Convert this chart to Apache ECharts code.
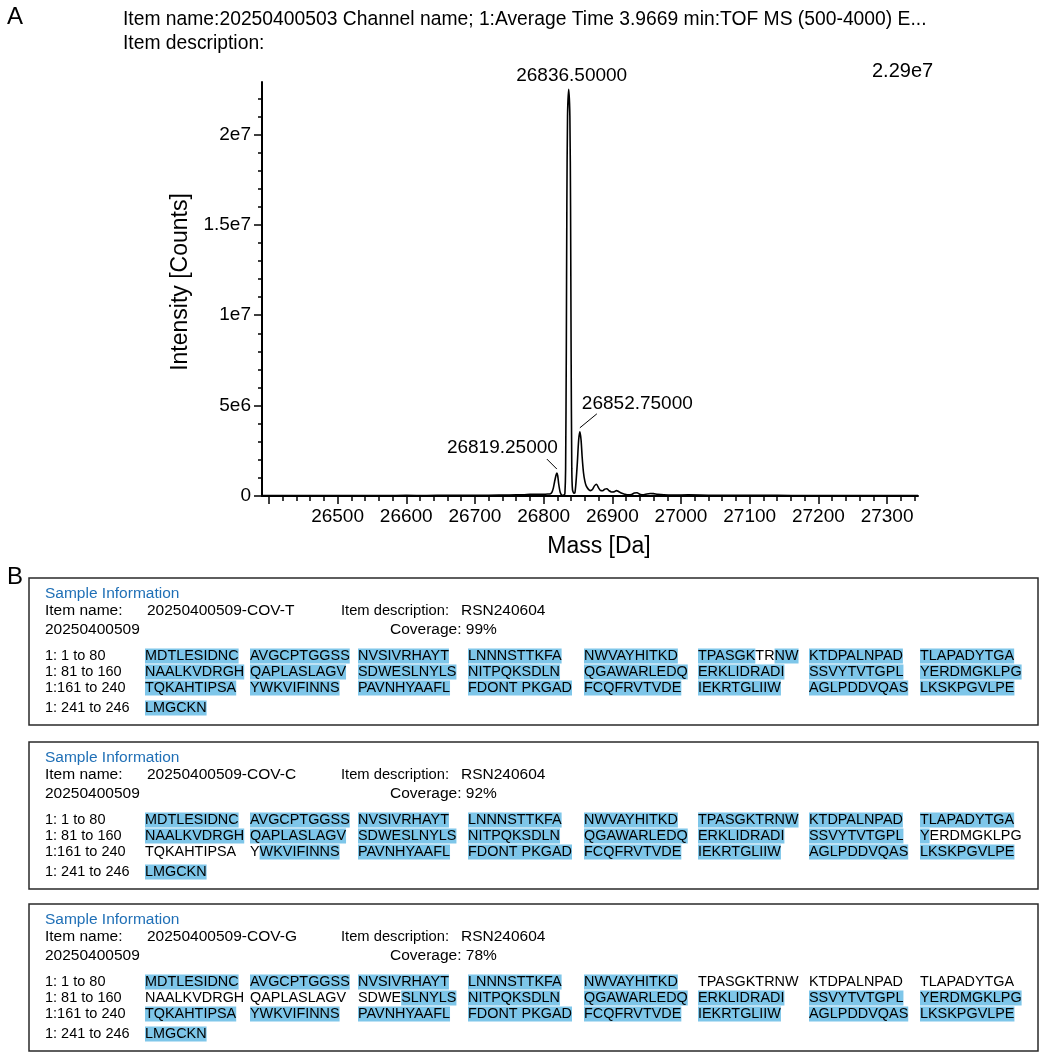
<!DOCTYPE html>
<html><head><meta charset="utf-8">
<script src="https://cdn.jsdelivr.net/npm/echarts@6/dist/echarts.min.js"></script>
<style>html,body{margin:0;padding:0;background:#fff}#c{width:1045px;height:1055px}</style>
</head><body><div id="c"></div>
<script>
// ---------------- DATA ----------------
const titleLines = ['Item name:20250400503 Channel name; 1:Average Time 3.9669 min:TOF MS (500-4000) E...', 'Item description:'];
const maxIntensityLabel = '2.29e7';
const xAxisName = 'Mass [Da]';
const yAxisName = 'Intensity [Counts]';
const xTickLabels = [26500, 26600, 26700, 26800, 26900, 27000, 27100, 27200, 27300];
const yTickLabels = [0, 5e6, 1e7, 1.5e7, 2e7];
const massDa = [26390, 26420, 26450, 26480, 26510, 26540, 26570, 26600, 26630, 26660, 26690, 26720, 26750, 26770, 26780, 26790, 26800, 26806, 26810, 26812, 26814, 26816, 26818, 26819.25, 26820.5, 26822, 26824, 26826, 26828, 26830, 26831, 26832, 26833, 26833.8, 26834.8, 26836.5, 26838.2, 26839.2, 26840, 26841, 26842, 26844, 26845.5, 26847, 26849, 26851, 26852.75, 26854.5, 26856, 26858, 26860, 26862, 26865, 26868, 26871, 26874, 26877, 26880, 26883, 26886, 26889, 26892, 26895, 26899, 26903, 26906, 26909, 26913, 26918, 26923, 26928, 26932, 26936, 26940, 26945, 26950, 26955, 26960, 26966, 26975, 26990, 27010, 27040, 27080, 27120, 27160, 27200, 27240, 27280, 27320, 27345];
const intensityCounts = [25000, 22000, 28000, 24000, 26000, 30000, 27000, 32000, 30000, 35000, 38000, 45000, 55000, 70000, 90000, 100000, 95000, 110000, 130000, 200000, 420000, 800000, 1150000, 1270000, 1120000, 650000, 220000, 60000, 40000, 60000, 150000, 1500000, 8000000, 16000000, 21000000, 22500000, 21000000, 16000000, 8000000, 1500000, 350000, 150000, 170000, 700000, 1800000, 3100000, 3550000, 3100000, 2200000, 1300000, 820000, 560000, 380000, 300000, 360000, 560000, 650000, 450000, 300000, 290000, 380000, 400000, 300000, 220000, 230000, 300000, 250000, 160000, 100000, 60000, 80000, 160000, 180000, 100000, 60000, 110000, 140000, 130000, 90000, 60000, 50000, 60000, 45000, 40000, 35000, 30000, 30000, 28000, 30000, 28000, 28000];
const peakMasses = [26836.5, 26852.75, 26819.25];
const peakIntensities = [22500000, 3550000, 1270000];

const sequenceRowLabels = ['1: 1 to 80', '1: 81 to 160', '1:161 to 240', '1: 241 to 246'];
const sequenceSegments = [
  ['MDTLESIDNC', 'AVGCPTGGSS', 'NVSIVRHAYT', 'LNNNSTTKFA', 'NWVAYHITKD', 'TPASGKTRNW', 'KTDPALNPAD', 'TLAPADYTGA'],
  ['NAALKVDRGH', 'QAPLASLAGV', 'SDWESLNYLS', 'NITPQKSDLN', 'QGAWARLEDQ', 'ERKLIDRADI', 'SSVYTVTGPL', 'YERDMGKLPG'],
  ['TQKAHTIPSA', 'YWKVIFINNS', 'PAVNHYAAFL', 'FDONT PKGAD', 'FCQFRVTVDE', 'IEKRTGLIIW', 'AGLPDDVQAS', 'LKSKPGVLPE'],
  ['LMGCKN']
];
const sampleNames = ['20250400509-COV-T', '20250400509-COV-C', '20250400509-COV-G'];
const sampleDescriptions = ['RSN240604', 'RSN240604', 'RSN240604'];
const sampleBatches = ['20250400509', '20250400509', '20250400509'];
const sampleCoverage = ['99%', '92%', '78%'];
// residue ranges (1-based, inclusive) NOT covered
const sampleUncovered = [[[57, 58]], [[152, 171]], [[51, 104]]];

// ---------------- LAYOUT / STYLE ----------------
const FONT = '"Liberation Sans", Arial, Helvetica, sans-serif';
const HL = '#7ec6e9';
const BLUE = '#1f6fb6';
const boxTops = [578, 742, 904];
const seqCols = [145, 250, 358, 468, 584, 698, 809, 920];
const rowOffsets = [78, 94, 110, 130];
const xMin = 26390, xMax = 27345, yMax = 2.29e7;
const annotationLayout = [
  {align: 'center', tx: 3, ty: -13, line: null},
  {align: 'left', tx: 2, ty: -28, line: [0, -4, 17, -18]},
  {align: 'right', tx: 1, ty: -25.5, line: [0, -4, -10, -14]}
];

const majorX = [], minorX = [];
for (let v = 26400; v <= xMax; v += 20) { (v % 100 === 0 ? majorX : minorX).push(v); }
const majorY = yTickLabels.slice(), minorY = [];
for (let v = 0; v <= 2.2e7; v += 1e6) { if (!majorY.includes(v)) minorY.push(v); }

function sci(v) {
  if (v === 0) return '0';
  const e = Math.floor(Math.log10(v));
  const m = +(v / Math.pow(10, e)).toFixed(2);
  return m + 'e' + e;
}

function txt(x, y, text, size, opts) {
  opts = opts || {};
  return {
    type: 'text', x: x, y: y, z: 10, silent: true, scaleX: opts.scaleX || 1,
    style: Object.assign({
      text: text, fontSize: size, fontFamily: FONT, fill: opts.fill || '#000',
      align: opts.align || 'left', verticalAlign: 'middle',
      textAlign: opts.align || 'left', textVerticalAlign: 'middle'
    }, opts.rich ? {rich: opts.rich} : {})
  };
}

function segmentRich(seg, startResidue, uncovered) {
  let res = startResidue, out = '', cur = null, buf = '';
  for (const ch of seg) {
    let cov;
    if (ch === ' ') { cov = cur === null ? true : cur; }
    else { cov = !uncovered.some(r => res >= r[0] && res <= r[1]); res++; }
    if (cur !== null && cov !== cur && buf) { out += '{' + (cur ? 'h' : 'n') + '|' + buf + '}'; buf = ''; }
    cur = cov; buf += ch;
  }
  if (buf) out += '{' + (cur ? 'h' : 'n') + '|' + buf + '}';
  return out;
}

const SEQ_SIZE = 15, HEAD_SIZE = 15.5;
const richSeq = {
  h: {backgroundColor: HL, height: 15, fontSize: SEQ_SIZE, fontFamily: FONT, fill: '#000'},
  n: {height: 15, fontSize: SEQ_SIZE, fontFamily: FONT, fill: '#000'}
};

const graphics = [];
graphics.push(txt(7, 17, 'A', 24));
graphics.push(txt(7, 577, 'B', 24));
graphics.push(txt(123, 20, titleLines[0], 19.3));
graphics.push(txt(123, 44, titleLines[1], 19.3));
graphics.push(txt(872, 71.5, maxIntensityLabel, 20));

sampleNames.forEach((name, s) => {
  const T = boxTops[s];
  graphics.push({type: 'rect', z: 5, silent: true, shape: {x: 29, y: T, width: 1009, height: 147},
    style: {fill: 'none', stroke: '#2a2a2a', lineWidth: 1.5}});
  graphics.push(txt(45, T + 15.5, 'Sample Information', HEAD_SIZE, {fill: BLUE}));
  graphics.push(txt(45, T + 33, 'Item name:', HEAD_SIZE));
  graphics.push(txt(147, T + 33, name, HEAD_SIZE));
  graphics.push(txt(341, T + 33, 'Item description:', HEAD_SIZE, {scaleX: 0.95}));
  graphics.push(txt(461, T + 33, sampleDescriptions[s], HEAD_SIZE));
  graphics.push(txt(45, T + 52, sampleBatches[s], HEAD_SIZE));
  graphics.push(txt(390, T + 52, 'Coverage: ' + sampleCoverage[s], HEAD_SIZE));
  sequenceSegments.forEach((row, r) => {
    const y = T + rowOffsets[r];
    graphics.push(txt(45, y, sequenceRowLabels[r], 14.5));
    row.forEach((seg, c) => {
      const start = r * 80 + c * 10 + 1;
      graphics.push(txt(seqCols[c], y, segmentRich(seg, start, sampleUncovered[s]), SEQ_SIZE, {rich: richSeq, scaleX: 0.96}));
    });
  });
});

// ---------------- CHART ----------------
const chart = echarts.init(document.getElementById('c'), null, {renderer: 'canvas'});
const axisCommon = {type: 'value', splitLine: {show: false}};
const option = {
  animation: false,
  backgroundColor: '#fff',
  textStyle: {fontFamily: FONT},
  grid: {left: 262, top: 82, width: 656, height: 414, containLabel: false},
  xAxis: [
    Object.assign({}, axisCommon, {
      min: xMin, max: xMax, position: 'bottom',
      axisLine: {show: true, lineStyle: {color: '#000', width: 2}},
      axisTick: {show: true, customValues: majorX, length: 8, lineStyle: {color: '#000', width: 1.5}},
      axisLabel: {show: true, customValues: xTickLabels, formatter: v => String(v), fontSize: 19, color: '#000', margin: 11, fontFamily: FONT},
      name: xAxisName, nameLocation: 'middle', nameGap: 39,
      nameTextStyle: {fontSize: 23, color: '#000', fontFamily: FONT, padding: [0, 0, 0, 18]}
    }),
    Object.assign({}, axisCommon, {
      min: xMin, max: xMax, position: 'bottom',
      axisLine: {show: false},
      axisTick: {show: true, customValues: minorX, length: 5, lineStyle: {color: '#000', width: 1.5}},
      axisLabel: {show: false}
    })
  ],
  yAxis: [
    Object.assign({}, axisCommon, {
      min: 0, max: yMax, position: 'left',
      axisLine: {show: true, lineStyle: {color: '#000', width: 2}},
      axisTick: {show: true, customValues: majorY, length: 8, lineStyle: {color: '#000', width: 1.5}},
      axisLabel: {show: true, customValues: yTickLabels, formatter: sci, fontSize: 19, color: '#000', margin: 11, fontFamily: FONT},
      name: yAxisName, nameLocation: 'middle', nameGap: 60, nameRotate: 90,
      nameTextStyle: {fontSize: 23, color: '#000', fontFamily: FONT, padding: [0, 0, 0, 14]}
    }),
    Object.assign({}, axisCommon, {
      min: 0, max: yMax, position: 'left',
      axisLine: {show: false},
      axisTick: {show: true, customValues: minorY, length: 4, lineStyle: {color: '#000', width: 1.5}},
      axisLabel: {show: false}
    })
  ],
  series: [
    {
      type: 'line', xAxisIndex: 0, yAxisIndex: 0,
      data: massDa.map((m, i) => [m, intensityCounts[i]]),
      showSymbol: false, symbol: 'none', smooth: 0.25,
      lineStyle: {color: '#000', width: 1.6}, silent: true, z: 3
    },
    {
      type: 'custom', xAxisIndex: 0, yAxisIndex: 0, silent: true, clip: false, z: 4,
      data: peakMasses.map((m, i) => [m, peakIntensities[i]]),
      renderItem: function (params, api) {
        const p = api.coord([api.value(0), api.value(1)]);
        const lay = annotationLayout[params.dataIndex];
        const children = [{
          type: 'text', x: p[0] + lay.tx, y: p[1] + lay.ty,
          style: {text: Number(api.value(0)).toFixed(5), fontSize: 19, fontFamily: FONT, fill: '#000',
            align: lay.align, verticalAlign: 'middle', textAlign: lay.align, textVerticalAlign: 'middle'}
        }];
        if (lay.line) {
          children.push({type: 'line', shape: {x1: p[0] + lay.line[0], y1: p[1] + lay.line[1], x2: p[0] + lay.line[2], y2: p[1] + lay.line[3]},
            style: {stroke: '#000', lineWidth: 1}});
        }
        return {type: 'group', children: children};
      }
    }
  ],
  graphic: {elements: graphics}
};
chart.setOption(option);
</script></body></html>
